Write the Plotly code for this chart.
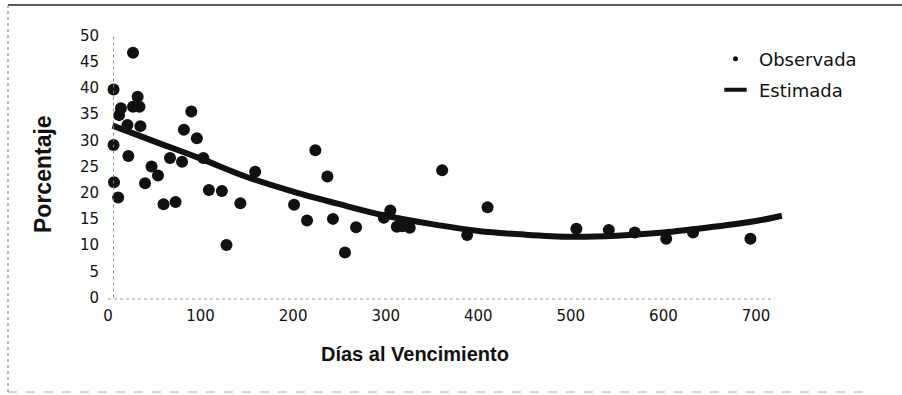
import plotly.graph_objects as go

# ---- data ----
dias_obs = [6, 6, 6.5, 11, 12, 14, 21, 22, 27, 27, 32, 34, 35, 40, 47, 54, 60, 67, 73, 80,
            82, 90, 96, 103, 109, 123, 128, 143, 159, 201, 215, 224, 237, 243, 256, 268,
            298, 305, 312, 318, 326, 361, 388, 410, 506, 541, 569, 603, 632, 694]
pct_obs = [39.7, 29.1, 22.0, 19.1, 34.8, 36.1, 32.9, 27.0, 46.7, 36.4, 38.3, 36.4, 32.7, 21.8,
           25.0, 23.3, 17.8, 26.6, 18.2, 25.9, 32.0, 35.5, 30.4, 26.6, 20.5, 20.3, 10.0, 18.0,
           24.0, 17.7, 14.7, 28.1, 23.1, 15.0, 8.6, 13.4, 15.2, 16.6, 13.5, 13.6, 13.3, 24.3,
           11.9, 17.2, 13.1, 12.9, 12.4, 11.2, 12.4, 11.2]

dias_est = [5, 50, 100, 150, 200, 250, 300, 350, 400, 450, 500, 550, 600, 650, 700, 728]
pct_est = [32.8, 29.8, 26.5, 23.0, 20.2, 17.8, 15.6, 14.0, 12.7, 12.0, 11.6, 11.8, 12.4, 13.4, 14.6, 15.6]

x_ticks = [0, 100, 200, 300, 400, 500, 600, 700]
y_ticks = [0, 5, 10, 15, 20, 25, 30, 35, 40, 45, 50]

legend_names = ["Observada", "Estimada"]
x_title = "Días al Vencimiento"
y_title = "Porcentaje"

# ---- layout geometry (pixels) ----
W, H = 902, 395
ML, MR, MT, MB = 108, 109, 25, 96
PW, PH = W - ML - MR, H - MT - MB


def px(xp):
    return (xp - ML) / PW


def py(yp):
    return (H - MB - yp) / PH


INK = "#111111"
TICKFONT = dict(family="DejaVu Sans", size=15, color=INK)

fig = go.Figure()

fig.add_trace(go.Scatter(
    x=dias_est, y=pct_est, mode="lines", line=dict(color=INK, width=6, shape="spline"),
    showlegend=False, cliponaxis=False, hoverinfo="skip"))
fig.add_trace(go.Scatter(
    x=dias_obs, y=pct_obs, mode="markers", marker=dict(color=INK, size=12),
    showlegend=False, cliponaxis=False))

# legend entries
fig.add_trace(go.Scatter(
    x=[None], y=[None], mode="markers", name=legend_names[0],
    marker=dict(color=INK, size=5), legend="legend"))
fig.add_trace(go.Scatter(
    x=[None], y=[None], mode="markers", name=legend_names[1],
    marker=dict(symbol="line-ew", size=16, line=dict(color=INK, width=4)), legend="legend2"))

fig.update_xaxes(range=[0, 740], tickvals=x_ticks, showgrid=False, zeroline=False,
                 showline=False, ticks="", tickfont=TICKFONT, ticklabelstandoff=6)
fig.update_yaxes(range=[-0.29, 52.0], tickvals=y_ticks, showgrid=False, zeroline=False,
                 showline=False, ticks="", tickfont=TICKFONT, ticklabelstandoff=8)

legfont = dict(family="DejaVu Sans", size=18, color=INK)
fig.update_layout(
    width=W, height=H,
    margin=dict(l=ML, r=MR, t=MT, b=MB, pad=0),
    paper_bgcolor="white", plot_bgcolor="white",
    font=dict(family="DejaVu Sans", color=INK),
    legend=dict(x=px(712), y=py(59), xanchor="left", yanchor="middle", font=legfont,
                itemwidth=37, bgcolor="rgba(0,0,0,0)", borderwidth=0),
    legend2=dict(x=px(712), y=py(90), xanchor="left", yanchor="middle", font=legfont,
                 itemwidth=37, bgcolor="rgba(0,0,0,0)", borderwidth=0),
    annotations=[
        dict(text="<b>" + y_title + "</b>", textangle=-90, x=px(43), y=py(174),
             xref="paper", yref="paper", showarrow=False,
             font=dict(family="Liberation Sans", size=23, color=INK),
             xanchor="center", yanchor="middle"),
        dict(text="<b>" + x_title + "</b>", x=px(415), y=py(354), xref="paper", yref="paper",
             showarrow=False, font=dict(family="Liberation Sans", size=20, color=INK),
             xanchor="center", yanchor="middle"),
    ],
)

# axis lines (faint dotted, as in the scanned original)
fig.add_shape(type="line", xref="x", yref="y", x0=6, x1=6, y0=0, y1=50,
              line=dict(color="#888888", width=1, dash="dot"))
fig.add_shape(type="line", xref="x", yref="paper", x0=0, x1=720, y0=0, y1=0,
              line=dict(color="#999999", width=1, dash="dot"))

# outer frame of the scanned figure
fig.add_shape(type="line", xref="paper", yref="paper", x0=px(8), x1=px(902), y0=py(5), y1=py(5),
              line=dict(color="#222222", width=1.5))
fig.add_shape(type="line", xref="paper", yref="paper", x0=px(8), x1=px(8), y0=py(5), y1=py(395),
              line=dict(color="#777777", width=1, dash="dot"))
fig.add_shape(type="line", xref="paper", yref="paper", x0=px(8), x1=px(870), y0=py(392), y1=py(392),
              line=dict(color="#aaaaaa", width=1, dash="dash"))

fig.write_html("out.html")
